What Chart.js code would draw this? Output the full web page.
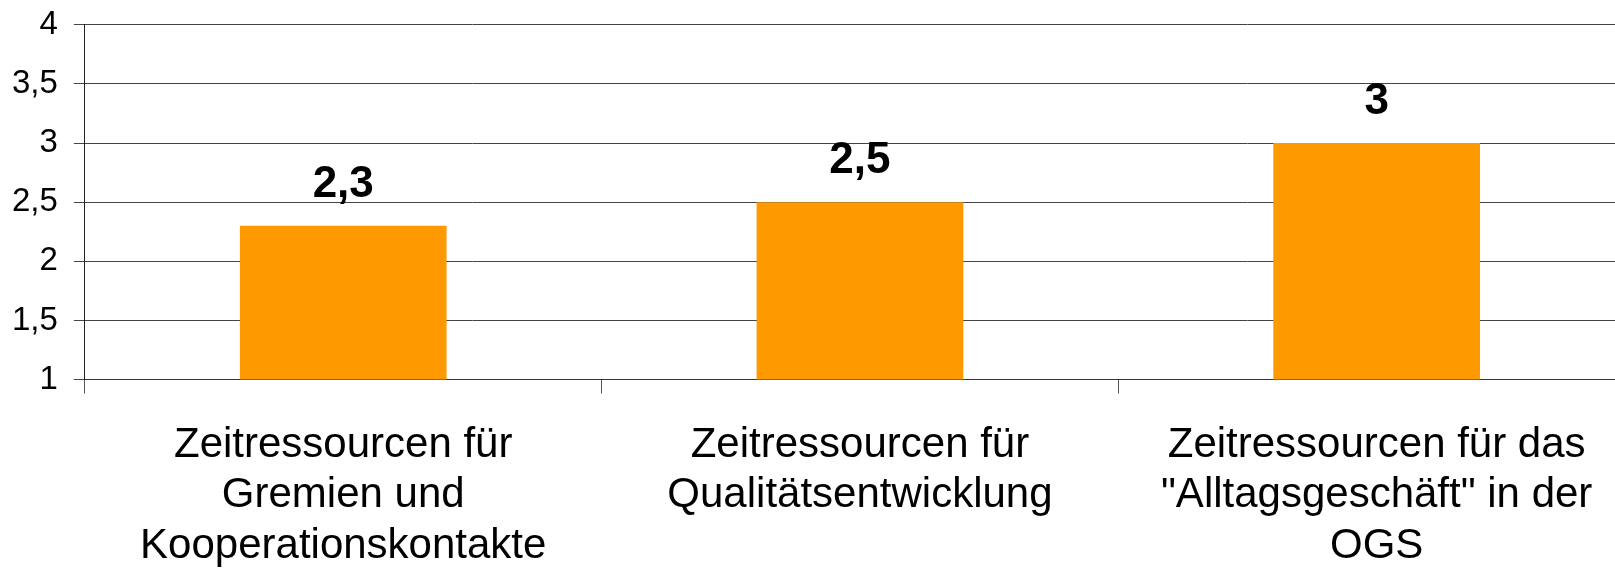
<!DOCTYPE html>
<html>
<head>
<meta charset="utf-8">
<script src="https://cdn.jsdelivr.net/npm/chart.js@4.4.0/dist/chart.umd.min.js"></script>
<style>
  html, body { margin: 0; padding: 0; background: #fff; overflow: hidden; }
  #wrap { width: 1635px; height: 580px; margin-top: -11px; }
</style>
</head>
<body>
<div id="wrap"><canvas id="chart" width="1635" height="580"></canvas></div>
<script>
// chart values
const categories = [
  ['Zeitressourcen für', 'Gremien und', 'Kooperationskontakte'],
  ['Zeitressourcen für', 'Qualitätsentwicklung'],
  ['Zeitressourcen für das', '"Alltagsgeschäft" in der', 'OGS']
];
const values = [2.3, 2.5, 3];
const yMin = 1, yMax = 4, yStep = 0.5;

const FONT = '"Liberation Sans", Arial, sans-serif';
const fmt = v => String(v).replace('.', ',');

// draws the bold numbers above each bar
const valueLabels = {
  id: 'valueLabels',
  afterDatasetsDraw(chart) {
    const ctx = chart.ctx;
    const meta = chart.getDatasetMeta(0);
    ctx.save();
    ctx.font = 'bold 44px ' + FONT;
    ctx.fillStyle = '#000';
    ctx.textAlign = 'center';
    ctx.textBaseline = 'middle';
    meta.data.forEach((bar, i) => {
      ctx.fillText(fmt(values[i]), bar.x, bar.y - 41);
    });
    ctx.restore();
  }
};

new Chart(document.getElementById('chart'), {
  type: 'bar',
  data: {
    labels: categories,
    datasets: [{
      data: values,
      backgroundColor: '#ff9900',
      borderWidth: 0,
      barPercentage: 0.4,
      categoryPercentage: 1
    }]
  },
  options: {
    responsive: false,
    animation: false,
    layout: { padding: { left: -4, top: -6, right: 0, bottom: -29 } },
    plugins: { legend: { display: false }, tooltip: { enabled: false } },
    scales: {
      x: {
        offset: true,
        grid: {
          offset: true,
          drawOnChartArea: false,
          drawTicks: true,
          tickLength: 14,
          color: '#555'
        },
        border: { color: '#333', width: 1 },
        ticks: {
          color: '#000',
          padding: 26,
          maxRotation: 0,
          autoSkip: false,
          font: { family: FONT, size: 42, lineHeight: 1.21 }
        }
      },
      y: {
        min: yMin,
        max: yMax,
        grid: { color: '#444', tickLength: 11 },
        border: { color: '#222', width: 1 },
        ticks: {
          stepSize: yStep,
          color: '#000',
          padding: 16,
          callback: v => fmt(v),
          font: { family: FONT, size: 33 }
        }
      }
    }
  },
  plugins: [valueLabels]
});
</script>
</body>
</html>
